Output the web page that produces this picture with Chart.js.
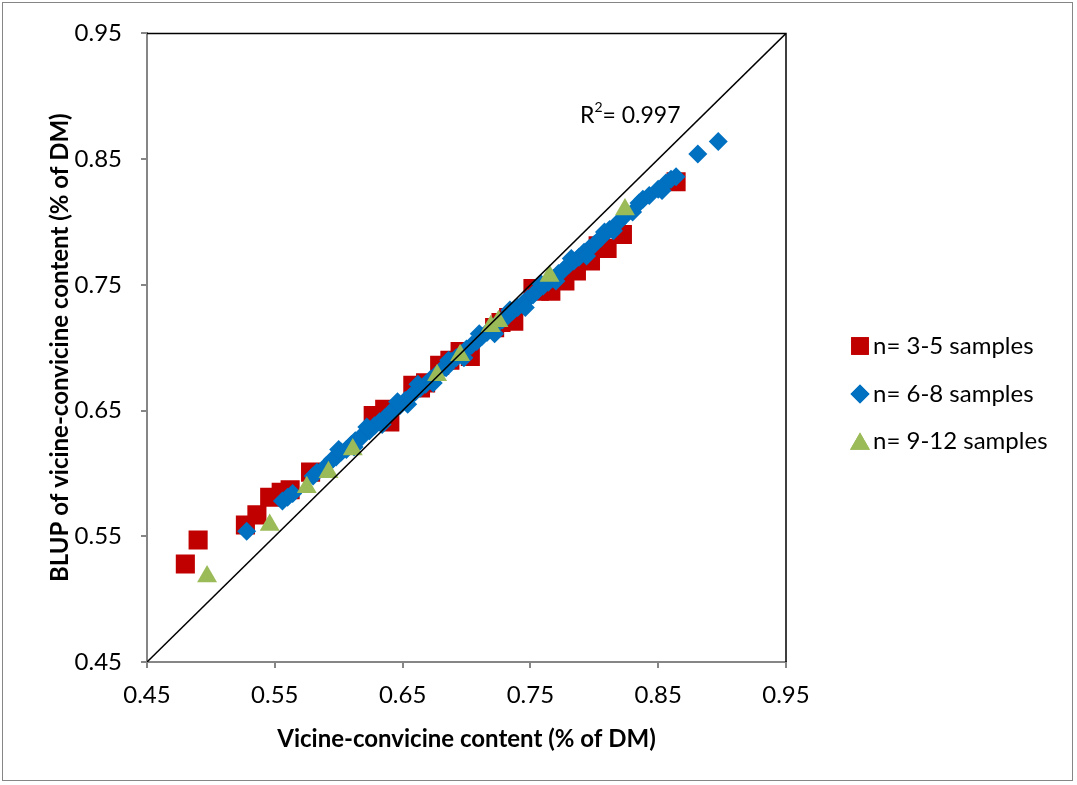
<!DOCTYPE html>
<html>
<head>
<meta charset="utf-8">
<title>BLUP vs vicine-convicine content</title>
<script src="https://cdn.jsdelivr.net/npm/chart.js@4.4.1/dist/chart.umd.min.js"></script>
<style>
  html, body { margin: 0; padding: 0; background: #fff; }
  #wrap { width: 1077px; height: 785px; }
</style>
</head>
<body>
<div id="wrap"><canvas id="chart" width="1077" height="785"></canvas></div>
<script>
// tick positions shared by both axes
const tickValues = [0.45, 0.55, 0.65, 0.75, 0.85, 0.95];

const seriesLabels = ["n= 3-5 samples", "n= 6-8 samples", "n= 9-12 samples"];

// n = 3-5 samples
const redX = [0.480, 0.490, 0.527, 0.536, 0.546, 0.555, 0.562, 0.578, 0.627, 0.636,
              0.640, 0.658, 0.664, 0.668, 0.679, 0.687, 0.695, 0.703, 0.722, 0.727,
              0.733, 0.737, 0.752, 0.757, 0.766, 0.777, 0.786, 0.797, 0.803, 0.810,
              0.822, 0.864];
const redY = [0.528, 0.547, 0.559, 0.567, 0.581, 0.585, 0.587, 0.601, 0.646, 0.651,
              0.641, 0.670, 0.668, 0.672, 0.686, 0.690, 0.697, 0.693, 0.716, 0.720,
              0.724, 0.721, 0.747, 0.745, 0.745, 0.753, 0.761, 0.769, 0.781, 0.779,
              0.790, 0.832];

// n = 6-8 samples
const blueX = [0.528, 0.556, 0.560, 0.564, 0.580, 0.583, 0.590, 0.595, 0.598, 0.602,
               0.606, 0.610, 0.613, 0.617, 0.620, 0.624, 0.628, 0.632, 0.636, 0.640,
               0.644, 0.648, 0.652, 0.656, 0.660, 0.664, 0.668, 0.672, 0.676, 0.680,
               0.684, 0.688, 0.692, 0.696, 0.700, 0.704, 0.708, 0.712, 0.716, 0.720,
               0.724, 0.728, 0.732, 0.736, 0.740, 0.744, 0.748, 0.752, 0.756, 0.760,
               0.764, 0.768, 0.772, 0.776, 0.780, 0.784, 0.788, 0.792, 0.796, 0.800,
               0.805, 0.812, 0.818, 0.824, 0.830, 0.838, 0.843, 0.850, 0.856, 0.860,
               0.864, 0.881, 0.897,
               0.600, 0.612, 0.622, 0.634, 0.646, 0.654, 0.662, 0.674, 0.686, 0.698,
               0.710, 0.722, 0.734, 0.746, 0.758, 0.770, 0.782, 0.794, 0.808, 0.815,
               0.835, 0.853];
const blueY = [0.554, 0.578, 0.581, 0.584, 0.598, 0.601, 0.606, 0.611, 0.613, 0.617,
               0.619, 0.623, 0.626, 0.628, 0.632, 0.634, 0.638, 0.641, 0.644, 0.648,
               0.651, 0.654, 0.658, 0.661, 0.665, 0.668, 0.671, 0.675, 0.678, 0.682,
               0.684, 0.689, 0.692, 0.695, 0.699, 0.702, 0.705, 0.709, 0.712, 0.715,
               0.719, 0.722, 0.725, 0.729, 0.732, 0.735, 0.739, 0.742, 0.746, 0.749,
               0.752, 0.755, 0.759, 0.762, 0.766, 0.769, 0.772, 0.776, 0.779, 0.782,
               0.787, 0.794, 0.799, 0.805, 0.808, 0.818, 0.821, 0.826, 0.831, 0.834,
               0.836, 0.854, 0.864,
               0.619, 0.621, 0.637, 0.639, 0.657, 0.655, 0.671, 0.672, 0.690, 0.692,
               0.711, 0.711, 0.730, 0.732, 0.751, 0.753, 0.771, 0.773, 0.792, 0.793,
               0.815, 0.825];

// n = 9-12 samples
const greenX = [0.497, 0.546, 0.575, 0.592, 0.611, 0.677, 0.695, 0.719, 0.725, 0.765, 0.824];
const greenY = [0.518, 0.559, 0.589, 0.601, 0.619, 0.678, 0.694, 0.717, 0.721, 0.757, 0.810];

// 1:1 reference line
const diagX = [0.45, 0.95];
const diagY = [0.45, 0.95];

const rSquaredText = "0.997";

const FONT = "Lato, 'Open Sans', 'DejaVu Sans', sans-serif";
const AXIS_GREY = "#868686";
const colors = ["#C00000", "#0070C0", "#9BBB59"];
const styles = ["rect", "rectRot", "triangle"];
const radii = [13.5, 9.5, 11.5];

const toPoints = (xs, ys) => xs.map((x, i) => ({ x: x, y: ys[i] }));

// frame, outer border, R² note and legend
const decorations = {
  id: "decorations",
  afterDraw(chart) {
    const { ctx, chartArea } = chart;
    ctx.save();

    // black top/right edges of the plot area
    ctx.strokeStyle = "#000";
    ctx.lineWidth = 1.5;
    ctx.beginPath();
    ctx.moveTo(chartArea.left, chartArea.top);
    ctx.lineTo(chartArea.right, chartArea.top);
    ctx.lineTo(chartArea.right, chartArea.bottom);
    ctx.stroke();

    // chart border
    ctx.strokeStyle = AXIS_GREY;
    ctx.lineWidth = 1;
    ctx.strokeRect(2.5, 2.5, 1070, 778);

    // R² = ...
    ctx.fillStyle = "#000";
    ctx.textBaseline = "alphabetic";
    ctx.textAlign = "left";
    ctx.font = "23px " + FONT;
    ctx.fillText("R", 580, 123);
    const rw = ctx.measureText("R").width;
    ctx.font = "14px " + FONT;
    ctx.fillText("2", 580 + rw, 112);
    const sw = ctx.measureText("2").width;
    ctx.font = "23px " + FONT;
    ctx.fillText("= " + rSquaredText, 580 + rw + sw, 123);

    // legend
    const rowsY = [346, 394, 441];
    ctx.textBaseline = "middle";
    seriesLabels.forEach((label, i) => {
      ctx.fillStyle = colors[i];
      const r = i === 0 ? 12.5 : radii[i];
      const cy = i === 2 ? rowsY[i] + 3 : rowsY[i];
      Chart.helpers.drawPoint(ctx, { pointStyle: styles[i], radius: r, rotation: 0, borderWidth: 0 }, 860, cy);
      ctx.fill();
      ctx.fillStyle = "#000";
      ctx.font = "24px " + FONT;
      ctx.fillText(label, 873, rowsY[i]);
    });

    ctx.restore();
  }
};

const axisCommon = {
  type: "linear",
  min: 0.45,
  max: 0.95,
  afterBuildTicks(scale) {
    scale.ticks = tickValues.map(v => ({ value: v }));
  },
  border: { display: true, color: AXIS_GREY, width: 2 },
  grid: {
    drawOnChartArea: false,
    drawTicks: true,
    tickLength: 6,
    color: AXIS_GREY,
    lineWidth: 2
  }
};

new Chart(document.getElementById("chart"), {
  type: "scatter",
  data: {
    datasets: [
      {
        label: seriesLabels[0],
        data: toPoints(redX, redY),
        backgroundColor: colors[0],
        pointStyle: styles[0],
        pointRadius: radii[0],
        borderWidth: 0,
        order: 3
      },
      {
        label: seriesLabels[1],
        data: toPoints(blueX, blueY),
        backgroundColor: colors[1],
        pointStyle: styles[1],
        pointRadius: radii[1],
        borderWidth: 0,
        order: 2
      },
      {
        label: seriesLabels[2],
        data: toPoints(greenX, greenY),
        backgroundColor: colors[2],
        pointStyle: styles[2],
        pointRadius: radii[2],
        borderWidth: 0,
        order: 1
      },
      {
        label: "1:1",
        data: toPoints(diagX, diagY),
        showLine: true,
        borderColor: "#000",
        borderWidth: 1.5,
        pointRadius: 0,
        order: 0
      }
    ]
  },
  options: {
    responsive: false,
    animation: false,
    devicePixelRatio: 1,
    layout: { padding: { left: 0, top: 31, right: 291, bottom: 0 } },
    plugins: {
      legend: { display: false },
      tooltip: { enabled: false }
    },
    scales: {
      x: Object.assign({}, axisCommon, {
        position: "bottom",
        afterFit(scale) { scale.height = 123; },
        ticks: {
          color: "#000",
          font: { family: FONT, size: 24 },
          padding: 13,
          maxRotation: 0,
          callback: v => v.toFixed(2)
        },
        title: {
          display: true,
          text: "Vicine-convicine content (% of DM)",
          color: "#000",
          font: { family: FONT, size: 24, weight: "bold" },
          padding: { top: 0, bottom: 31 }
        }
      }),
      y: Object.assign({}, axisCommon, {
        position: "left",
        afterFit(scale) { scale.width = 147; },
        ticks: {
          color: "#000",
          font: { family: FONT, size: 24 },
          padding: 19,
          callback: v => v.toFixed(2)
        },
        title: {
          display: true,
          text: "BLUP of vicine-convicine content (% of DM)",
          color: "#000",
          font: { family: FONT, size: 24, weight: "bold" },
          padding: { top: 46, bottom: 0 }
        }
      })
    }
  },
  plugins: [decorations]
});
</script>
</body>
</html>
